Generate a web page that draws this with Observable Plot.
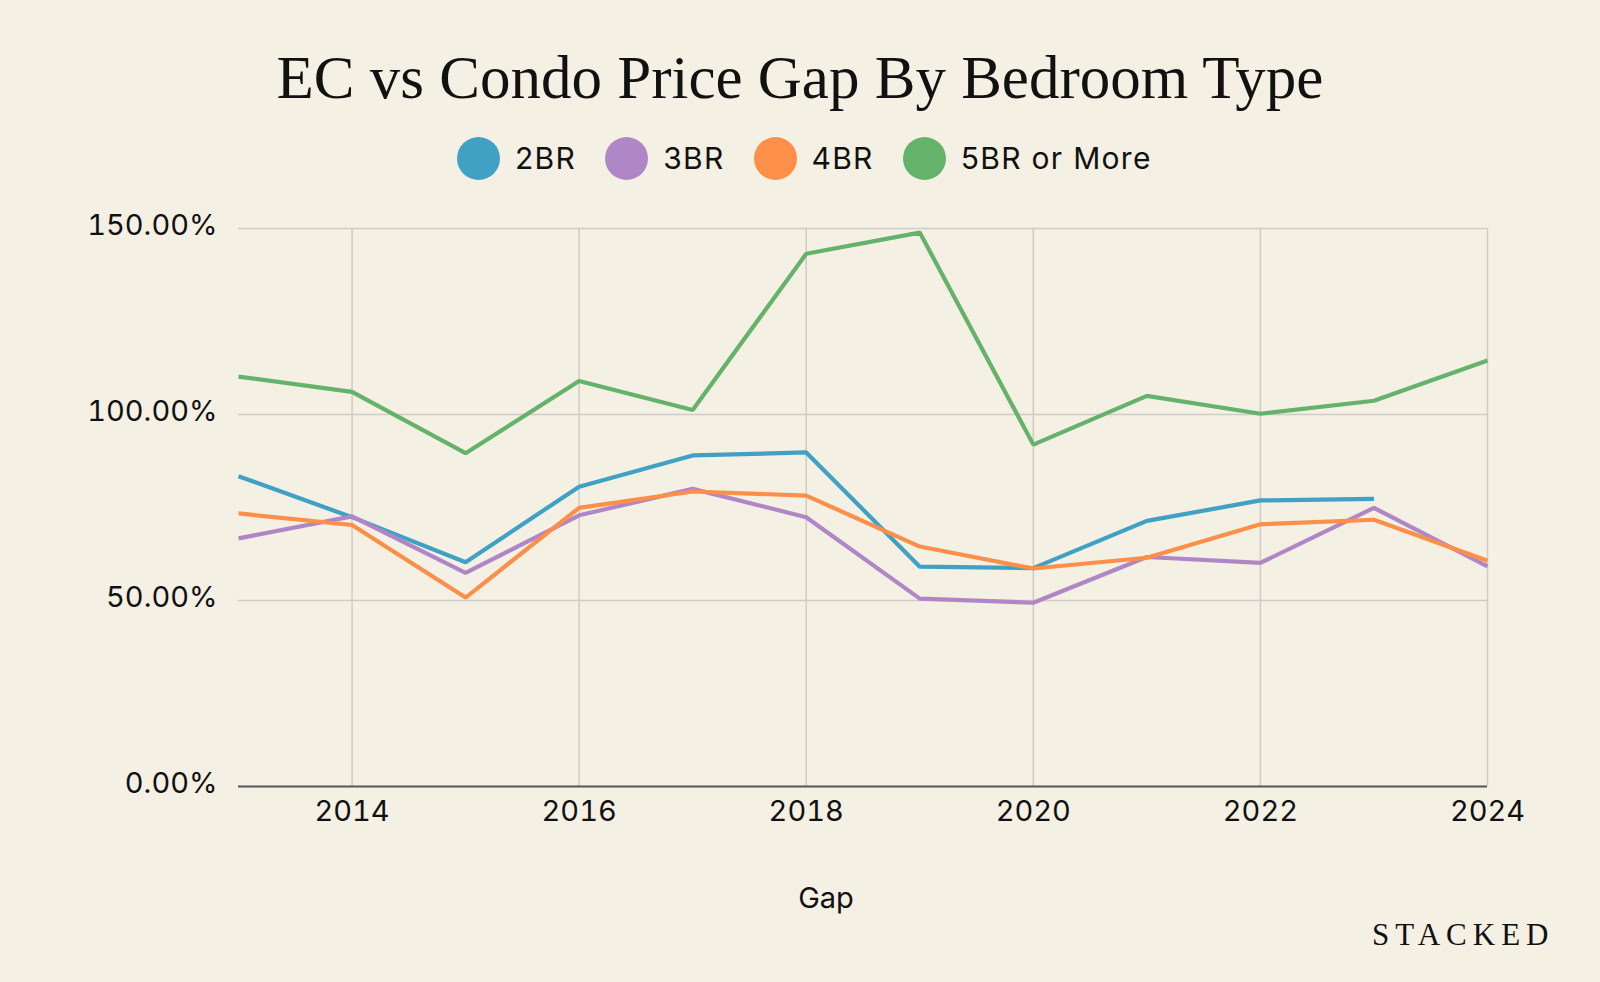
<!DOCTYPE html>
<html>
<head>
<meta charset="utf-8">
<script src="https://cdn.jsdelivr.net/npm/d3@7"></script>
<script src="https://cdn.jsdelivr.net/npm/@observablehq/plot@0.6"></script>
<style>
  html, body { margin: 0; padding: 0; background: #f4f0e4; }
  #page { position: relative; width: 1600px; height: 982px; background: #f4f0e4; overflow: hidden; }
  #title { position: absolute; left: 0; top: 47px; width: 1600px; text-align: center;
    font-family: "Liberation Serif", "DejaVu Serif", serif; font-size: 61px; line-height: 61px; color: #111; }
  #legend { position: absolute; left: 457px; top: 136px; height: 44px; display: flex; align-items: center;
    font-family: Inter, "Open Sans", sans-serif; font-size: 30px; letter-spacing: 1.3px; color: #111; }
  .item { display: flex; align-items: center; margin-right: 29px; }
  .dot { width: 43px; height: 43px; border-radius: 50%; margin-right: 15px; }
  #chart { position: absolute; left: 0; top: 190px; }
  #xlabel { position: absolute; left: 726px; width: 200px; text-align: center; top: 880px;
    font-family: Inter, "Open Sans", sans-serif; font-size: 29px; line-height: 36px; color: #111; }
  #logo { position: absolute; left: 1372px; top: 917px; font-family: "Liberation Serif", "DejaVu Serif", serif;
    font-size: 31px; letter-spacing: 6px; color: #111; line-height: 36px; }
</style>
</head>
<body>
<div id="page">
  <div id="title">EC vs Condo Price Gap By Bedroom Type</div>
  <div id="legend"></div>
  <div id="chart"></div>
  <div id="xlabel">Gap</div>
  <div id="logo">STACKED</div>
</div>
<script>
const years = [2013, 2014, 2015, 2016, 2017, 2018, 2019, 2020, 2021, 2022, 2023, 2024];
const gap2BR = [83.4, 72.4, 60.3, 80.6, 89.0, 89.8, 59.1, 58.7, 71.4, 76.9, 77.3, null];
const gap3BR = [66.7, 72.6, 57.4, 72.9, 80.0, 72.4, 50.5, 49.4, 61.7, 60.1, 74.9, 59.2];
const gap4BR = [73.4, 70.3, 50.8, 74.9, 79.3, 78.2, 64.5, 58.6, 61.5, 70.5, 71.7, 60.7];
const gap5BR = [110.2, 106.1, 89.6, 109.0, 101.2, 143.2, 148.9, 91.9, 105.0, 100.2, 103.7, 114.5];
const seriesNames = ["2BR", "3BR", "4BR", "5BR or More"];
const seriesColors = ["#41a1c4", "#b087c6", "#fd8f48", "#65b36b"];
const xTicks = [2014, 2016, 2018, 2020, 2022, 2024];
const yTicks = [0, 50, 100, 150];

const seriesValues = [gap2BR, gap3BR, gap4BR, gap5BR];
const rows = [];
seriesNames.forEach((name, i) => {
  years.forEach((yr, j) => {
    const v = seriesValues[i][j];
    if (v != null) rows.push({series: name, year: yr, value: v});
  });
});

// legend
const legend = document.getElementById("legend");
seriesNames.forEach((name, i) => {
  const item = document.createElement("div");
  item.className = "item";
  const dot = document.createElement("div");
  dot.className = "dot";
  dot.style.background = seriesColors[i];
  const label = document.createElement("span");
  label.textContent = name;
  item.appendChild(dot);
  item.appendChild(label);
  legend.appendChild(item);
});

const gridColor = "#d0ccc4";
const plot = Plot.plot({
  width: 1600,
  height: 660,
  marginTop: 38,
  marginBottom: 64,
  marginLeft: 238,
  marginRight: 113,
  style: {background: "transparent", fontFamily: "Inter, 'Open Sans', sans-serif", fontSize: "29px", color: "#111"},
  x: {domain: [2013, 2024], ticks: xTicks, tickFormat: d => String(d), label: null},
  y: {domain: [0, 150], ticks: yTicks, tickFormat: d => d.toFixed(2) + "%", label: null},
  color: {domain: seriesNames, range: seriesColors},
  marks: [
    Plot.gridX(xTicks, {stroke: gridColor, strokeOpacity: 1, strokeWidth: 1.5}),
    Plot.gridY([50, 100, 150], {stroke: gridColor, strokeOpacity: 1, strokeWidth: 1.5}),
    Plot.ruleY([0], {stroke: "#555", strokeWidth: 2}),
    Plot.axisX({ticks: xTicks, tickSize: 0, tickPadding: 14, tickFormat: d => String(d), label: null}),
    Plot.axisY({ticks: yTicks, tickSize: 0, tickPadding: 21, dy: -3, tickFormat: d => d.toFixed(2) + "%", label: null, style: {letterSpacing: "0.6px"}}),
    Plot.line(rows, {x: "year", y: "value", z: "series", stroke: "series", strokeWidth: 4.2, strokeLinejoin: "miter", strokeLinecap: "butt"})
  ]
});
document.getElementById("chart").appendChild(plot);
</script>
</body>
</html>
